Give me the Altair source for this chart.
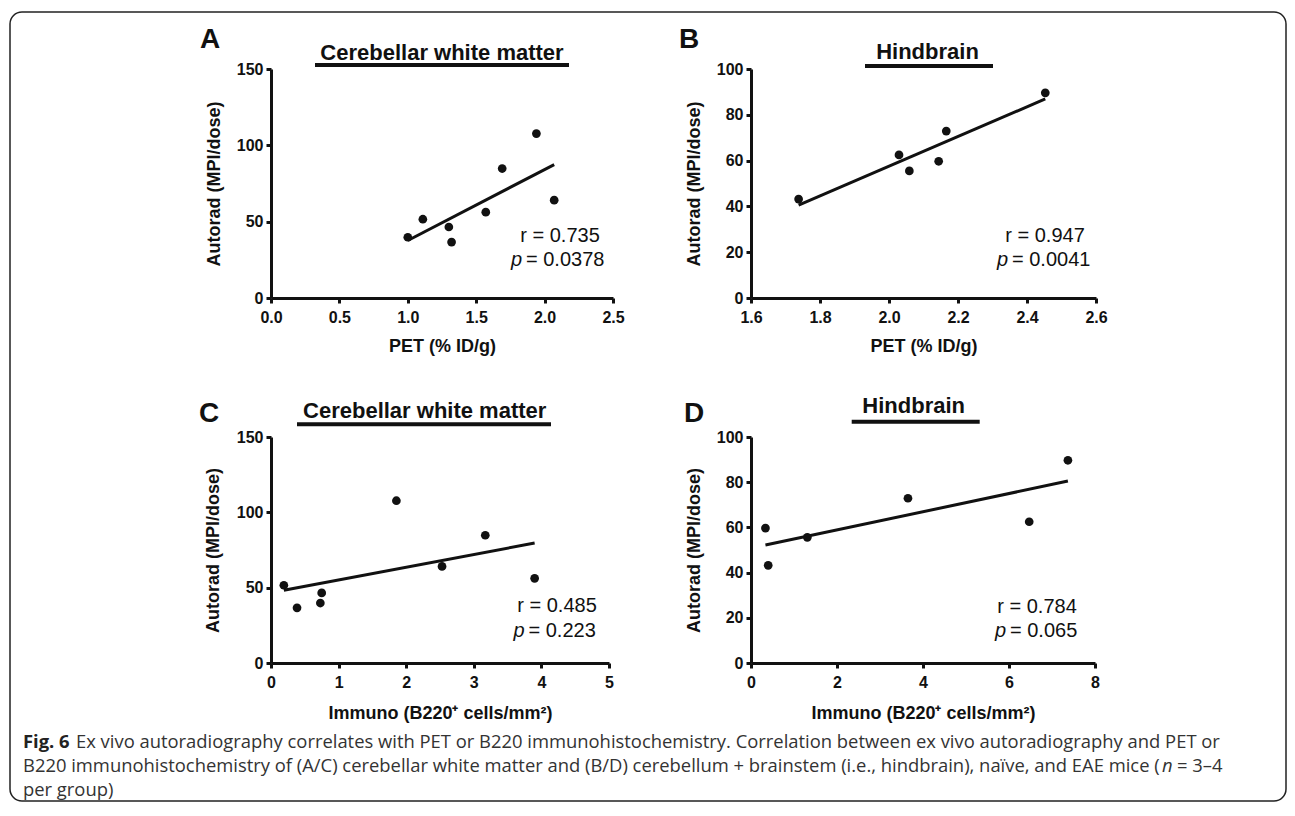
import altair as alt
import pandas as pd

FONT = "Liberation Sans"
CAP_FONT = "Open Sans"
INK = "#111111"

# ---- data ----
# A: PET vs autoradiography, cerebellar white matter
a_pet = [1.00, 1.11, 1.30, 1.32, 1.57, 1.69, 1.94, 2.07]
a_autorad = [39.8, 51.6, 46.5, 36.6, 56.2, 84.8, 107.7, 64.1]
# B: PET vs autoradiography, hindbrain
b_pet = [1.738, 2.029, 2.059, 2.144, 2.166, 2.453]
b_autorad = [43.2, 62.5, 55.5, 59.7, 72.9, 89.6]
# C: immuno vs autoradiography, cerebellar white matter
c_immuno = [0.19, 0.385, 0.73, 0.75, 1.855, 2.53, 3.17, 3.90]
c_autorad = [51.6, 36.6, 39.8, 46.5, 107.7, 64.1, 84.8, 56.2]
# D: immuno vs autoradiography, hindbrain
d_immuno = [0.336, 0.40, 1.31, 3.65, 6.47, 7.37]
d_autorad = [59.7, 43.2, 55.6, 72.9, 62.5, 89.7]

# axis ticks
a_xticks = [0.0, 0.5, 1.0, 1.5, 2.0, 2.5]
b_xticks = [1.6, 1.8, 2.0, 2.2, 2.4, 2.6]
c_xticks = [0, 1, 2, 3, 4, 5]
d_xticks = [0, 2, 4, 6, 8]
y150_ticks = [0, 50, 100, 150]
y100_ticks = [0, 20, 40, 60, 80, 100]

# statistics text
stats = {
    "A": ("r = 0.735", "= 0.0378"),
    "B": ("r = 0.947", "= 0.0041"),
    "C": ("r = 0.485", "= 0.223"),
    "D": ("r = 0.784", "= 0.065"),
}

PET_TITLE = "PET (% ID/g)"
IMMUNO_TITLE = "Immuno (B220\u207a cells/mm\u00b2)"
Y_TITLE = "Autorad (MPI/dose)"

caption_bold = "Fig. 6"
caption_l1 = ("Ex vivo autoradiography correlates with PET or B220 immunohistochemistry. "
              "Correlation between ex vivo autoradiography and PET or")
caption_l2 = ("B220 immunohistochemistry of (A/C) cerebellar white matter and (B/D) "
              "cerebellum + brainstem (i.e., hindbrain), na\u00efve, and EAE mice (")
caption_l2_n = "n"
caption_l2_end = "= 3\u20134"
caption_l3 = "per group)"


def one(t):
    return pd.DataFrame({"t": [t]})


def txt(text, x, y, size=20, weight="normal", style="normal", align="center",
        font=FONT, color=INK, baseline="middle"):
    return alt.Chart(one(text)).mark_text(
        font=font, fontSize=size, fontWeight=weight, fontStyle=style,
        align=align, baseline=baseline, color=color
    ).encode(x=alt.value(x), y=alt.value(y), text="t:N")


def rule(x1, x2, y, width=4):
    return alt.Chart(one("u")).mark_rule(color=INK, strokeWidth=width).encode(
        x=alt.value(x1), x2=alt.value(x2), y=alt.value(y))


def panel(xs, ys, xdom, xvals, xfmt, ydom, yvals, xtitle, xtitle_y, w, h,
          ytitle_x, title, title_xy, ul, letter, letter_xy, key, r_xy, p_x, p_y,
          extra=()):
    df = pd.DataFrame({"x": xs, "y": ys})
    xenc = alt.X("x:Q", scale=alt.Scale(domain=xdom, nice=False, zero=False),
                 axis=alt.Axis(values=xvals, format=xfmt, title=xtitle,
                               titleY=xtitle_y, titleBaseline="middle"))
    yenc = alt.Y("y:Q", scale=alt.Scale(domain=ydom, nice=False, zero=False),
                 axis=alt.Axis(values=yvals, format="d", title=Y_TITLE,
                               titleX=ytitle_x, titleY=h / 2,
                               titleBaseline="middle"))
    pts = alt.Chart(df).mark_circle(size=76, color=INK, opacity=1).encode(x=xenc, y=yenc)
    fit = alt.Chart(df).transform_regression("x", "y").mark_line(
        color=INK, strokeWidth=3).encode(x="x:Q", y="y:Q")
    r_text, p_rest = stats[key]
    layers = list(extra) + [
        fit, pts,
        txt(title, title_xy[0], title_xy[1], size=22, weight="bold"),
        rule(ul[0], ul[1], ul[2]),
        txt(letter, letter_xy[0], letter_xy[1], size=28, weight="bold"),
        txt(r_text, r_xy[0], r_xy[1], size=20),
        txt("p", p_x - 4, p_y, size=20, style="italic", align="right"),
        txt(p_rest, p_x, p_y, size=20, align="left"),
    ]
    return alt.layer(*layers).properties(width=w, height=h)


border = alt.Chart(one("b")).mark_rect(
    fill="white", fillOpacity=0, stroke="#222222", strokeWidth=1.5, cornerRadius=12
).encode(x=alt.value(-261), x2=alt.value(1015), y=alt.value(-57), y2=alt.value(732))

CS = 18.4
caption = [
    txt(caption_bold, -248, 305, size=CS, weight="bold", align="left", font=CAP_FONT, color="#222222"),
    txt(caption_l1, -195, 305, size=CS, align="left", font=CAP_FONT, color="#333333"),
    txt(caption_l2, -248, 329, size=CS, align="left", font=CAP_FONT, color="#333333"),
    txt(caption_l2_n, 891, 329, size=CS, style="italic", align="left", font=CAP_FONT, color="#333333"),
    txt(caption_l2_end, 906, 329, size=CS, align="left", font=CAP_FONT, color="#333333"),
    txt(caption_l3, -248, 353, size=CS, align="left", font=CAP_FONT, color="#333333"),
]

pA = panel(a_pet, a_autorad, [0, 2.5], a_xticks, ".1f", [0, 150], y150_ticks,
           PET_TITLE, 48, 342, 229, -57, "Cerebellar white matter", (171, -16),
           (44, 298, -4), "A", (-61, -29), "A", (289, 167), 255, 191, extra=[border])
pB = panel(b_pet, b_autorad, [1.6, 2.6], b_xticks, ".1f", [0, 100], y100_ticks,
           PET_TITLE, 48, 345, 229, -57, "Hindbrain", (176.5, -17),
           (114, 242, -3), "B", (-62, -29), "B", (294, 167), 261, 191)
pC = panel(c_immuno, c_autorad, [0, 5], c_xticks, "d", [0, 150], y150_ticks,
           IMMUNO_TITLE, 50, 338, 226, -58, "Cerebellar white matter", (153.7, -26),
           (26, 280, -12.7), "C", (-62, -23), "C", (286, 169), 257.5, 194, extra=caption)
pD = panel(d_immuno, d_autorad, [0, 8], d_xticks, "d", [0, 100], y100_ticks,
           IMMUNO_TITLE, 50, 344, 226, -57, "Hindbrain", (162.7, -31),
           (100.7, 228.7, -15.3), "D", (-57, -23), "D", (286, 170), 259, 194)

chart = alt.concat(
    pA, pB, pC, pD, columns=2, spacing={"row": 139, "column": 138}, bounds="flush"
).properties(
    padding={"left": 1, "top": 3, "right": 0, "bottom": 0},
    background="white",
).configure_view(strokeWidth=0).configure_axis(
    grid=False, domainColor=INK, domainWidth=3, tickColor=INK, tickWidth=3,
    tickSize=5, labelFont=FONT, labelFontSize=16, labelFontWeight="bold",
    labelColor=INK, titleFont=FONT, titleFontSize=18, titleFontWeight="bold",
    titleColor=INK, labelFlush=False, labelOverlap=False,
).configure_axisX(labelPadding=6).configure_axisY(labelPadding=3)

chart.save("out.html", embed_options={"renderer": "svg", "actions": False})
